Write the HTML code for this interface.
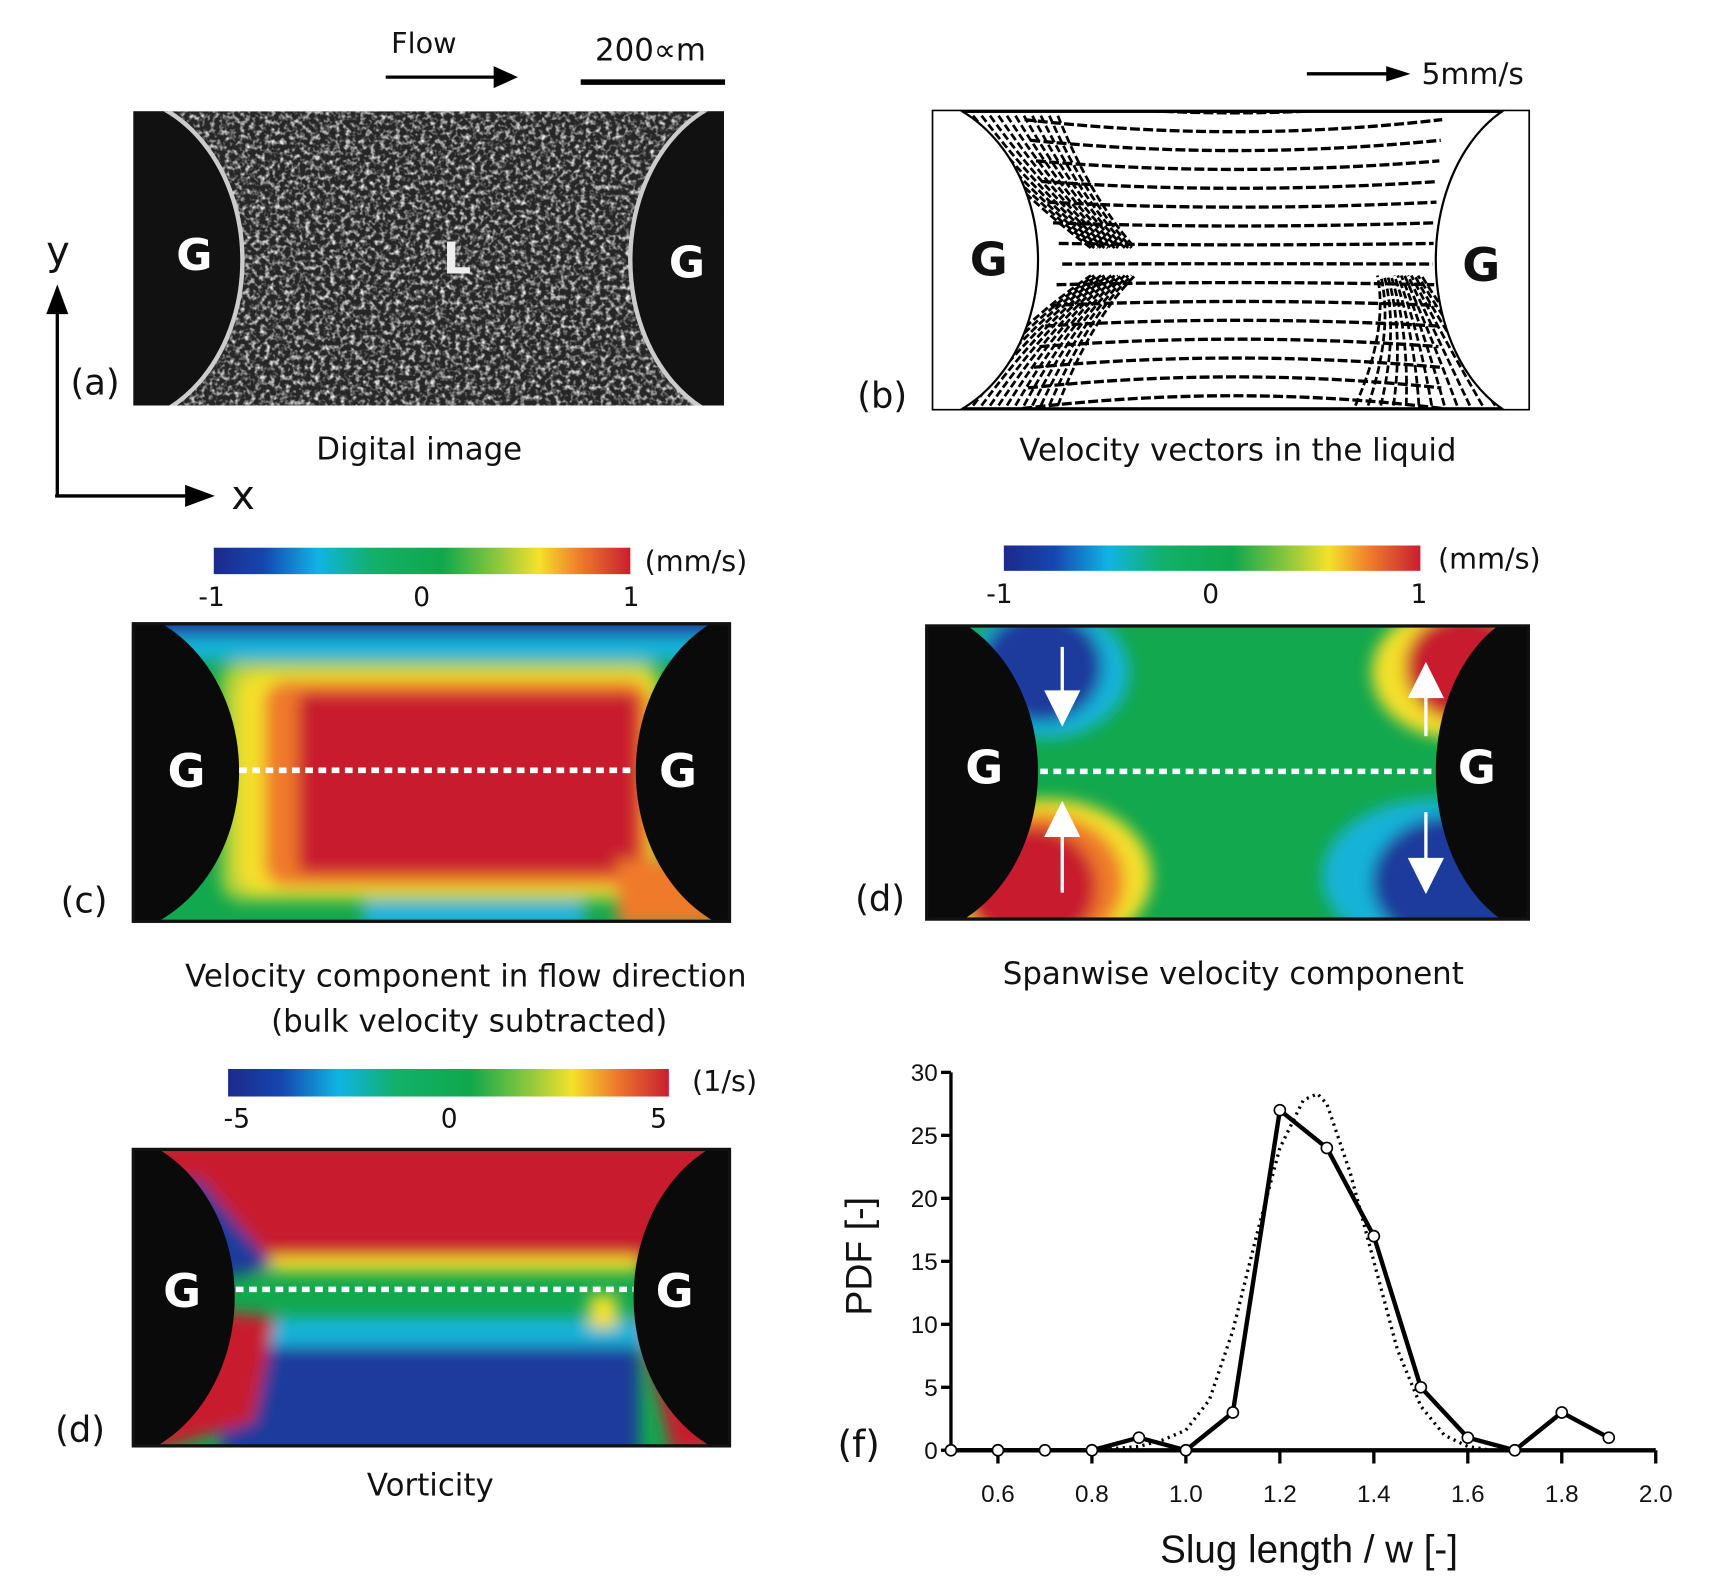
<!DOCTYPE html>
<html><head><meta charset="utf-8"><style>
html,body{margin:0;padding:0;background:#fff}
svg{display:block}
text{font-family:"DejaVu Sans","Liberation Sans",sans-serif;fill:#111}
.ax text{font-family:"Liberation Sans",sans-serif}
</style></head><body>
<svg id="fig" width="1719" height="1577" viewBox="0 0 1560 1431" preserveAspectRatio="none" xmlns="http://www.w3.org/2000/svg">
<defs>
<linearGradient id="jet" x1="0" x2="1" y1="0" y2="0">
<stop offset="0" stop-color="#1c2a8a"/><stop offset="0.12" stop-color="#1546b0"/><stop offset="0.25" stop-color="#10b4e4"/><stop offset="0.38" stop-color="#12b06a"/><stop offset="0.55" stop-color="#0fa84c"/><stop offset="0.7" stop-color="#9fcc3a"/><stop offset="0.78" stop-color="#f4e22a"/><stop offset="0.88" stop-color="#ef7a2c"/><stop offset="1" stop-color="#c81f2f"/>
</linearGradient>
<filter id="blur" x="-10%" y="-10%" width="120%" height="120%"><feGaussianBlur stdDeviation="7"/></filter>
<filter id="speck"><feTurbulence type="fractalNoise" baseFrequency="0.22" numOctaves="2" seed="3"/><feColorMatrix type="matrix" values="0 0 0 0 0.8 0 0 0 0 0.8 0 0 0 0 0.8 0 0 0 2.6 -1.15"/></filter>
<clipPath id="cpa"><rect x="121" y="101" width="536" height="267"/></clipPath>
<clipPath id="cpb"><rect x="847" y="101" width="540" height="270"/></clipPath>
<clipPath id="cpc"><rect x="121" y="566" width="541" height="270"/></clipPath>
<clipPath id="cpd"><rect x="841" y="568" width="546" height="266"/></clipPath>
<clipPath id="cpe"><rect x="121" y="1043" width="541" height="269"/></clipPath>
</defs>

<!-- Panel a -->
<g>
<text x="355" y="48" font-size="26">Flow</text>
<line x1="350" y1="70" x2="452" y2="70" stroke="#000" stroke-width="3"/><polygon points="448,60 470,70 448,80" fill="#000"/>
<text x="540" y="55" font-size="28">200∝m</text>
<rect x="527" y="72" width="131" height="5" fill="#000"/>
<g clip-path="url(#cpa)">
<rect x="121" y="101" width="536" height="267" fill="#262626"/>
<rect x="121" y="101" width="536" height="267" filter="url(#speck)"/>
<ellipse cx="100" cy="236" rx="120" ry="150" fill="#111" stroke="#ccc" stroke-width="4"/>
<ellipse cx="690" cy="236" rx="118" ry="150" fill="#111" stroke="#ccc" stroke-width="4"/>
</g>
<text x="160" y="245" font-size="40" font-weight="bold" style="fill:#fff">G</text>
<text x="607" y="252" font-size="40" font-weight="bold" style="fill:#fff">G</text>
<text x="402" y="248" font-size="40" font-weight="bold" style="fill:#eee">L</text>
<text x="64" y="358" font-size="32">(a)</text>
<text x="287" y="417" font-size="28">Digital image</text>
<line x1="52" y1="450" x2="52" y2="275" stroke="#000" stroke-width="3"/><polygon points="42,285 52,258 62,285" fill="#000"/>
<line x1="50" y1="450" x2="175" y2="450" stroke="#000" stroke-width="3"/><polygon points="168,440 195,450 168,460" fill="#000"/>
<text x="42" y="240" font-size="36">y</text><text x="210" y="462" font-size="36">x</text>
</g>

<!-- Panel b -->
<g>
<line x1="1186" y1="67" x2="1262" y2="67" stroke="#000" stroke-width="3"/><polygon points="1258,60 1280,67 1258,74" fill="#000"/>
<text x="1290" y="76" font-size="27">5mm/s</text>
<rect x="847" y="101" width="540" height="270" fill="#fff" stroke="#000" stroke-width="3"/>
<g clip-path="url(#cpb)" id="vecs" fill="none" stroke="#000">
<ellipse cx="820" cy="236" rx="122" ry="150" fill="#fff" stroke="#000" stroke-width="2"/>
<ellipse cx="1410" cy="236" rx="107" ry="150" fill="#fff" stroke="#000" stroke-width="2"/>
</g>
<text x="880" y="250" font-size="42" font-weight="bold">G</text>
<text x="1327" y="255" font-size="42" font-weight="bold">G</text>
<text x="778" y="370" font-size="32">(b)</text>
<text x="925" y="418" font-size="28">Velocity vectors in the liquid</text>
</g>

<!-- Panel c -->
<g>
<rect x="194" y="497" width="378" height="24" fill="url(#jet)"/>
<text x="585" y="518" font-size="26">(mm/s)</text>
<text x="180" y="550" font-size="24">-1</text><text x="375" y="550" font-size="24">0</text><text x="565" y="550" font-size="24">1</text>
<g clip-path="url(#cpc)">
<rect x="121" y="566" width="541" height="270" fill="#12a84e"/>
<g filter="url(#blur)">
<rect x="121" y="560" width="541" height="40" fill="#12b3d8"/>
<rect x="121" y="555" width="541" height="22" fill="#1c3a9c"/>
<rect x="330" y="810" width="200" height="40" fill="#12b3d8"/>
<rect x="200" y="600" width="400" height="218" rx="20" fill="#a8d03a"/>
<rect x="215" y="610" width="380" height="200" rx="20" fill="#f4e02a"/>
<rect x="240" y="618" width="350" height="186" rx="20" fill="#ef7a2c"/>
<rect x="270" y="628" width="310" height="165" rx="10" fill="#c81f2f"/>
<rect x="560" y="780" width="110" height="60" fill="#ef7a2c"/>
</g>
<ellipse cx="90" cy="700" rx="127" ry="150" fill="#0a0a0a"/>
<ellipse cx="700" cy="700" rx="123" ry="150" fill="#0a0a0a"/>
</g>
<rect x="121" y="566" width="541" height="270" fill="none" stroke="#111" stroke-width="3"/>
<line x1="217" y1="699" x2="577" y2="699" stroke="#fff" stroke-width="5" stroke-dasharray="7,5"/>
<text x="152" y="714" font-size="42" font-weight="bold" style="fill:#fff">G</text>
<text x="598" y="714" font-size="42" font-weight="bold" style="fill:#fff">G</text>
<text x="55" y="828" font-size="32">(c)</text>
<text x="168" y="895" font-size="28">Velocity component in flow direction</text>
<text x="246" y="936" font-size="28">(bulk velocity subtracted)</text>
</g>

<!-- Panel d -->
<g>
<rect x="911" y="495" width="378" height="23" fill="url(#jet)"/>
<text x="1305" y="516" font-size="26">(mm/s)</text>
<text x="895" y="547" font-size="24">-1</text><text x="1091" y="547" font-size="24">0</text><text x="1280" y="547" font-size="24">1</text>
<g clip-path="url(#cpd)">
<rect x="841" y="568" width="546" height="266" fill="#12a84e"/>
<g filter="url(#blur)">
<ellipse cx="950" cy="610" rx="75" ry="60" fill="#12b3d8"/>
<ellipse cx="945" cy="605" rx="55" ry="50" fill="#1c3a9c"/>
<ellipse cx="950" cy="795" rx="95" ry="70" fill="#f4e02a"/>
<ellipse cx="945" cy="800" rx="75" ry="62" fill="#ef7a2c"/>
<ellipse cx="935" cy="805" rx="60" ry="55" fill="#c81f2f"/>
<ellipse cx="1320" cy="610" rx="75" ry="60" fill="#f4e02a"/>
<ellipse cx="1330" cy="605" rx="55" ry="50" fill="#c81f2f"/>
<ellipse cx="1300" cy="795" rx="100" ry="70" fill="#12b3d8"/>
<ellipse cx="1320" cy="800" rx="75" ry="60" fill="#1c3a9c"/>
</g>
<ellipse cx="820" cy="700" rx="122" ry="150" fill="#0a0a0a"/>
<ellipse cx="1410" cy="700" rx="107" ry="150" fill="#0a0a0a"/>
</g>
<rect x="841" y="568" width="546" height="266" fill="none" stroke="#111" stroke-width="3"/>
<line x1="944" y1="700" x2="1303" y2="700" stroke="#fff" stroke-width="5" stroke-dasharray="7,5"/>
<g stroke="#fff" stroke-width="3" fill="#fff">
<line x1="964" y1="587" x2="964" y2="640"/><polygon points="950,628 964,656 978,628"/>
<line x1="964" y1="810" x2="964" y2="745"/><polygon points="950,758 964,730 978,758"/>
<line x1="1294" y1="668" x2="1294" y2="620"/><polygon points="1280,632 1294,604 1308,632"/>
<line x1="1294" y1="737" x2="1294" y2="790"/><polygon points="1280,780 1294,808 1308,780"/>
</g>
<text x="876" y="711" font-size="42" font-weight="bold" style="fill:#fff">G</text>
<text x="1323" y="711" font-size="42" font-weight="bold" style="fill:#fff">G</text>
<text x="776" y="826" font-size="32">(d)</text>
<text x="910" y="893" font-size="28">Spanwise velocity component</text>
</g>

<!-- Panel d2 vorticity -->
<g>
<rect x="207" y="970" width="400" height="25" fill="url(#jet)"/>
<text x="628" y="990" font-size="26">(1/s)</text>
<text x="203" y="1023" font-size="24">-5</text><text x="400" y="1023" font-size="24">0</text><text x="590" y="1023" font-size="24">5</text>
<g clip-path="url(#cpe)">
<rect x="121" y="1043" width="541" height="269" fill="#12a84e"/>
<g filter="url(#blur)">
<rect x="121" y="1035" width="541" height="115" fill="#c81f2f"/>
<rect x="230" y="1140" width="350" height="14" fill="#f4e02a"/>
<rect x="180" y="1195" width="420" height="30" fill="#12b3d8"/>
<rect x="200" y="1222" width="380" height="100" fill="#1c3a9c"/>
<polygon points="130,1070 180,1070 250,1150 200,1160" fill="#1c3a9c"/>
<polygon points="200,1190 250,1195 230,1290 130,1320 120,1300" fill="#c81f2f"/>
<polygon points="580,1190 640,1220 662,1320 610,1320" fill="#c81f2f"/>
<rect x="535" y="1175" width="25" height="30" fill="#f4e02a"/>
</g>
<ellipse cx="88" cy="1177" rx="125" ry="150" fill="#0a0a0a"/>
<ellipse cx="698" cy="1177" rx="123" ry="150" fill="#0a0a0a"/>
</g>
<rect x="121" y="1043" width="541" height="269" fill="none" stroke="#111" stroke-width="3"/>
<line x1="214" y1="1170" x2="575" y2="1170" stroke="#fff" stroke-width="5" stroke-dasharray="7,5"/>
<text x="148" y="1186" font-size="42" font-weight="bold" style="fill:#fff">G</text>
<text x="595" y="1186" font-size="42" font-weight="bold" style="fill:#fff">G</text>
<text x="50" y="1308" font-size="32">(d)</text>
<text x="333" y="1357" font-size="28">Vorticity</text>
</g>

<!-- Panel f chart -->
<g id="chartf" class="ax">
<text x="760" y="1322" font-size="34" style="font-family:'DejaVu Sans',sans-serif">(f)</text>
<text x="1188" y="1418" font-size="35" text-anchor="middle">Slug length / w  [-]</text>
<text transform="translate(791,1140) rotate(-90)" font-size="34" text-anchor="middle">PDF  [-]</text>
</g>
</svg>
<script>
const xVals=[0.5,0.6,0.7,0.8,0.9,1.0,1.1,1.2,1.3,1.4,1.5,1.6,1.7,1.8,1.9];
const pdfVals=[0,0,0,0,1,0,3,27,24,17,5,1,0,3,1];
const fitX=[0.5,0.8,0.9,0.95,1.0,1.05,1.1,1.15,1.2,1.25,1.28,1.3,1.35,1.4,1.45,1.5,1.55,1.6,1.65,1.9];
const fitY=[0,0,0.3,0.8,1.6,4,9.5,17,24,27.8,28.3,27.5,22,15,8,3.5,1.2,0.3,0,0];
const xTicks=[0.6,0.8,1.0,1.2,1.4,1.6,1.8,2.0];
const yTicks=[0,5,10,15,20,25,30];
const NS='http://www.w3.org/2000/svg';
const X=v=>863+(v-0.5)*426.4;
const Y=v=>1316-v*11.43;
const g=document.getElementById('chartf');
function mk(tag,attrs,parent){const e=document.createElementNS(NS,tag);for(const k in attrs)e.setAttribute(k,attrs[k]);(parent||g).appendChild(e);return e;}
const xa=mk('line',{x1:X(0.5),x2:X(2.0),y1:Y(0),y2:Y(0),stroke:'#000','stroke-width':4});


const ya=mk('line',{x1:X(0.5),x2:X(0.5),y1:Y(0),y2:Y(30),stroke:'#000','stroke-width':3});


xTicks.forEach(t=>{mk('line',{x1:X(t),x2:X(t),y1:Y(0),y2:Y(0)+12,stroke:'#000','stroke-width':3});
const tx=mk('text',{x:X(t),y:1363,'font-size':22,'text-anchor':'middle'});tx.textContent=t.toFixed(1);

});
yTicks.forEach(t=>{mk('line',{x1:X(0.5)-9,x2:X(0.5),y1:Y(t),y2:Y(t),stroke:'#000','stroke-width':3});
const tx=mk('text',{x:X(0.5)-12,y:Y(t)+8,'font-size':22,'text-anchor':'end'});tx.textContent=t;

});
const fit=mk('polyline',{points:fitX.map((v,i)=>X(v)+','+Y(fitY[i])).join(' '),fill:'none',stroke:'#000','stroke-width':3,'stroke-dasharray':'2,4'});


const ln=mk('polyline',{points:xVals.map((v,i)=>X(v)+','+Y(pdfVals[i])).join(' '),fill:'none',stroke:'#000','stroke-width':4,'stroke-linejoin':'round'});


xVals.forEach((v,i)=>{const c=mk('circle',{cx:X(v),cy:Y(pdfVals[i]),r:5,fill:'#fff',stroke:'#000','stroke-width':1.5});

});
// decorative velocity vectors in panel b
const vg=document.getElementById('vecs');
for(let r=0;r<17;r++){const y=115+r*15.5;const dy=(y-236)/120;
 const p=mk('path',{d:`M${965-Math.abs(dy)*40} ${y+dy*25} Q 1120 ${y} ${1300+Math.abs(dy)*10} ${y+dy*25}`,stroke:'#000','stroke-width':3,'stroke-dasharray':'9,3',fill:'none'},vg);
 
 }
for(let k=0;k<14;k++){const s=k/13;
 const p1=mk('path',{d:`M${860+s*100} ${105} Q ${930+s*60} ${180} ${990+s*40} ${225}`,stroke:'#000','stroke-width':2.5,'stroke-dasharray':'7,3',fill:'none'},vg);
 
 
 const p2=mk('path',{d:`M${860+s*100} ${368} Q ${930+s*60} ${290} ${990+s*40} ${250}`,stroke:'#000','stroke-width':2.5,'stroke-dasharray':'7,3',fill:'none'},vg);
 
 
 const p3=mk('path',{d:`M${1230+s*150} ${368} Q ${1260+s*60} ${300} ${1250+s*40} ${250}`,stroke:'#000','stroke-width':2.5,'stroke-dasharray':'7,3',fill:'none'},vg);
 
 }
vg.appendChild(vg.children[0]);vg.appendChild(vg.children[0]);
</script>
</body></html>
